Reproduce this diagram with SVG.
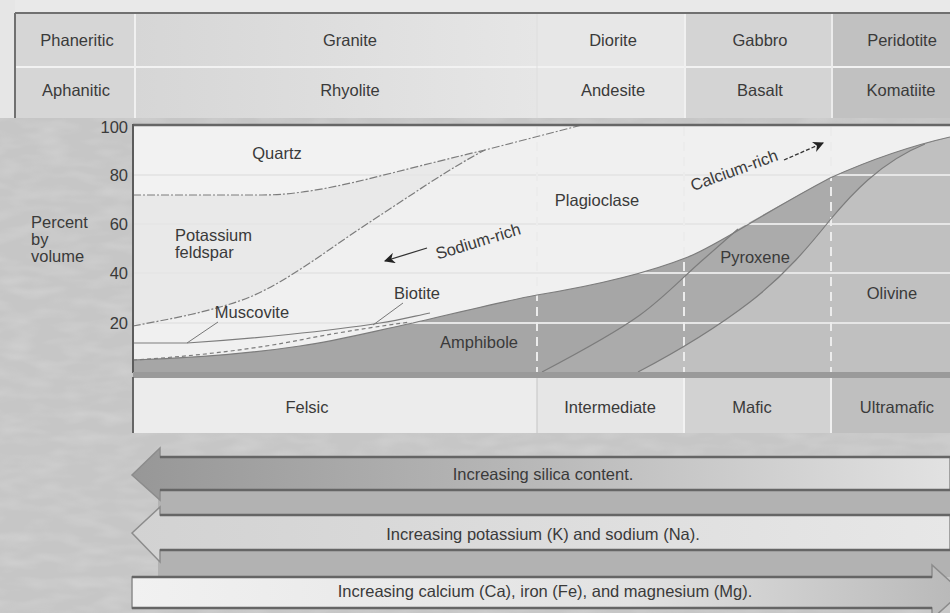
<svg xmlns="http://www.w3.org/2000/svg" width="950" height="613" viewBox="0 0 950 613">
<defs>
<style>
text { font-family: "Liberation Sans", Arial, Helvetica, sans-serif; font-size: 16.5px; fill: #3a3a3a; }
.c { text-anchor: middle; dominant-baseline: central; }
.l { text-anchor: start; dominant-baseline: central; }
.ax { text-anchor: end; dominant-baseline: central; }
.bnd { fill: none; stroke: #7c7c7c; stroke-width: 1.2; }
.dash { stroke-dasharray: 8 2 2 2; }
.grid { stroke: #e6e6e6; stroke-width: 2; }
.vgrid { stroke: #ececec; stroke-width: 2; stroke-dasharray: 9 6; }
.edge { stroke: #656565; stroke-width: 2.5; }
.head { stroke: #8c8c8c; stroke-width: 1.5; stroke-linejoin: miter; }
</style>
<linearGradient id="gSilica" x1="0" y1="0" x2="1" y2="0">
<stop offset="0" stop-color="#979797"/><stop offset="0.5" stop-color="#b9b9b9"/><stop offset="1" stop-color="#e2e2e2"/>
</linearGradient>
<linearGradient id="gKNa" x1="0" y1="0" x2="1" y2="0">
<stop offset="0" stop-color="#d2d2d2"/><stop offset="1" stop-color="#e7e7e7"/>
</linearGradient>
<linearGradient id="gCa" x1="0" y1="0" x2="1" y2="0">
<stop offset="0" stop-color="#f1f1f1"/><stop offset="0.6" stop-color="#e2e2e2"/><stop offset="1" stop-color="#b8b8b8"/>
</linearGradient>
<linearGradient id="gGranite" x1="0" y1="0" x2="1" y2="0">
<stop offset="0" stop-color="#d6d6d6"/><stop offset="1" stop-color="#e6e6e6"/>
</linearGradient>
<marker id="ah" viewBox="0 0 10 10" refX="9" refY="5" markerWidth="11" markerHeight="11" markerUnits="userSpaceOnUse" orient="auto">
<path d="M0,0 L10,5 L0,10 L3,5 Z" fill="#222"/>
</marker>
<filter id="tex" x="0" y="0" width="100%" height="100%">
<feTurbulence type="fractalNoise" baseFrequency="0.03 0.09" numOctaves="2" seed="4"/>
<feColorMatrix type="matrix" values="0 0 0 0 1  0 0 0 0 1  0 0 0 0 1  0 0 0 0.9 -0.35"/>
</filter>
</defs>

<!-- background -->
<g id="background">
<rect x="0" y="0" width="950" height="613" fill="#c6c6c6"/>
<rect x="0" y="0" width="950" height="613" filter="url(#tex)" opacity="0.35"/>
<rect x="0" y="0" width="950" height="12" fill="#e9e9e9"/>
<rect x="0" y="0" width="15" height="118" fill="#e6e6e6"/>
</g>

<!-- rock name table -->
<g id="rock-table">
<rect x="15" y="13" width="120" height="105" fill="#d6d6d6"/>
<rect x="135" y="13" width="402" height="105" fill="url(#gGranite)"/>
<rect x="537" y="13" width="148" height="105" fill="#e7e7e7"/>
<rect x="685" y="13" width="147" height="105" fill="#d4d4d4"/>
<rect x="832" y="13" width="118" height="105" fill="#c1c1c1"/>
<line x1="15" y1="67" x2="950" y2="67" stroke="#f2f2f2" stroke-width="2"/>
<line x1="135" y1="13" x2="135" y2="118" stroke="#f0f0f0" stroke-width="2"/>
<line x1="537" y1="13" x2="537" y2="118" stroke="#dedede" stroke-width="1"/>
<line x1="685" y1="13" x2="685" y2="118" stroke="#f0f0f0" stroke-width="2"/>
<line x1="832" y1="13" x2="832" y2="118" stroke="#ececec" stroke-width="2"/>
<line x1="15" y1="13" x2="950" y2="13" stroke="#707070" stroke-width="2"/>
<line x1="15" y1="13" x2="15" y2="118" stroke="#707070" stroke-width="2"/>
<g id="row-phaneritic">
<text class="c" x="77" y="40">Phaneritic</text>
<text class="c" x="350" y="40">Granite</text>
<text class="c" x="613" y="40">Diorite</text>
<text class="c" x="760" y="40">Gabbro</text>
<text class="c" x="902" y="40">Peridotite</text>
</g>
<g id="row-aphanitic">
<text class="c" x="76" y="90">Aphanitic</text>
<text class="c" x="350" y="90">Rhyolite</text>
<text class="c" x="613" y="90">Andesite</text>
<text class="c" x="760" y="90">Basalt</text>
<text class="c" x="901" y="90">Komatiite</text>
</g>
</g>

<!-- chart -->
<g id="chart">
<rect x="133" y="125" width="817" height="247" fill="#f0f0f0"/>
<path id="quartz-area" d="M133,125 L582,125 L485,150 C455,157 420,166 380,176 C340,186 300,195 262,195 L133,195 Z" fill="#f2f2f2"/>
<path id="kspar-area" d="M133,195 L262,195 C300,195 340,186 380,176 C420,166 455,157 485,150 C450,168 410,196 370,222 C330,248 290,280 250,297 C215,311 170,319 133,326 Z" fill="#e9e9e9"/>
<path id="amphibole-area" d="M133,360 C200,358 260,352 300,346 C340,340 370,332 413,323 C460,312 500,302 537,295 C580,288 640,276 688,257 C720,244 760,215 830,178 C870,160 910,146 950,137 L950,372 L133,372 Z" fill="#a6a6a6"/>
<path id="pyroxene-area" d="M542,372 C580,352 615,333 640,315 C665,297 685,275 705,258 L738,229 C760,216 795,197 830,178 C860,164 895,151 925,144 C880,162 850,196 830,220 C810,245 785,275 750,302 C720,325 680,350 638,372 Z" fill="#ababab"/>
<path id="olivine-area" d="M638,372 C680,350 720,325 750,302 C785,275 810,245 830,220 C850,196 880,162 925,144 L950,137 L950,372 Z" fill="#c0c0c0"/>

<g id="grid">
<line class="grid" x1="133" y1="175" x2="950" y2="175"/>
<line class="grid" x1="133" y1="224" x2="950" y2="224"/>
<line class="grid" x1="133" y1="273" x2="950" y2="273"/>
<line class="grid" x1="133" y1="323" x2="950" y2="323"/>
<line class="vgrid" x1="537" y1="127" x2="537" y2="372"/>
<line class="vgrid" x1="684" y1="127" x2="684" y2="372"/>
<line class="vgrid" x1="831" y1="127" x2="831" y2="372"/>
</g>

<g id="boundaries">
<path class="bnd dash" d="M133,195 L262,195 C300,195 340,186 380,176 C420,166 455,157 485,150 L582,125"/>
<path class="bnd dash" d="M133,326 C170,319 215,311 250,297 C290,280 330,248 370,222 C410,196 450,168 485,150"/>
<path class="bnd" d="M133,343 L187,343 C250,339 330,331 380,323 C400,320 415,316 430,313"/>
<path class="bnd" stroke-dasharray="4 3" d="M133,360 C200,356 260,348 300,340 C330,334 360,329 410,322"/>
<path class="bnd" stroke="#6a6a6a" d="M133,360 C200,358 260,352 300,346 C340,340 370,332 413,323 C460,312 500,302 537,295 C580,288 640,276 688,257 C720,244 760,215 830,178 C870,160 910,146 950,137"/>
<path class="bnd" stroke="#6a6a6a" d="M542,372 C580,352 615,333 640,315 C665,297 685,275 705,258 L738,229"/>
<path class="bnd" stroke="#6a6a6a" d="M638,372 C680,350 720,325 750,302 C785,275 810,245 830,220 C850,196 880,162 925,144"/>
<line x1="187" y1="343" x2="218" y2="322" stroke="#777" stroke-width="1"/>
<line x1="373" y1="325" x2="403" y2="303" stroke="#777" stroke-width="1"/>
</g>

<line x1="133" y1="125" x2="950" y2="125" stroke="#666" stroke-width="2.5"/>
<line x1="133" y1="124" x2="133" y2="373" stroke="#5c5c5c" stroke-width="2"/>
<rect x="133" y="372" width="817" height="6" fill="#9a9a9a"/>

<g id="axis-labels">
<text class="ax" x="128" y="127">100</text>
<text class="ax" x="128" y="175">80</text>
<text class="ax" x="128" y="224">60</text>
<text class="ax" x="128" y="273">40</text>
<text class="ax" x="128" y="323">20</text>
<text class="l" x="31" y="222">Percent</text>
<text class="l" x="31" y="239">by</text>
<text class="l" x="31" y="256">volume</text>
</g>

<g id="mineral-labels">
<text class="c" x="277" y="153">Quartz</text>
<text class="l" x="175" y="235">Potassium</text>
<text class="l" x="175" y="252">feldspar</text>
<text class="c" x="252" y="312">Muscovite</text>
<text class="c" x="417" y="293">Biotite</text>
<text class="c" x="597" y="200">Plagioclase</text>
<text class="c" x="479" y="342">Amphibole</text>
<text class="c" x="755" y="257">Pyroxene</text>
<text class="c" x="892" y="293">Olivine</text>
<text class="c" transform="translate(478,241) rotate(-17)">Sodium-rich</text>
<text class="c" transform="translate(734,170) rotate(-20)">Calcium-rich</text>
</g>
</g>

<g id="connectors">
<line x1="427" y1="248" x2="385" y2="261" stroke="#333" stroke-width="1.3" marker-end="url(#ah)"/>
<line x1="784" y1="160" x2="823" y2="143" stroke="#333" stroke-width="1.3" stroke-dasharray="4 2" marker-end="url(#ah)"/>
</g>

<!-- composition row -->
<g id="composition-row">
<rect x="133" y="378" width="404" height="55" fill="#ececec"/>
<rect x="537" y="378" width="147" height="55" fill="#e6e6e6"/>
<rect x="684" y="378" width="147" height="55" fill="#d2d2d2"/>
<rect x="831" y="378" width="119" height="55" fill="#bfbfbf"/>
<line x1="537" y1="378" x2="537" y2="433" stroke="#c4c4c4" stroke-width="1"/>
<line x1="684" y1="378" x2="684" y2="433" stroke="#f2f2f2" stroke-width="2"/>
<line x1="831" y1="378" x2="831" y2="433" stroke="#f0f0f0" stroke-width="2"/>
<line x1="133" y1="377" x2="133" y2="433" stroke="#666" stroke-width="2"/>
<text class="c" x="307" y="407">Felsic</text>
<text class="c" x="610" y="407">Intermediate</text>
<text class="c" x="752" y="407">Mafic</text>
<text class="c" x="897" y="407">Ultramafic</text>
</g>

<!-- trend arrows -->
<g id="arrows">
<rect x="158" y="490" width="792" height="25" fill="#b2b2b2"/>
<rect x="158" y="550" width="792" height="27" fill="#b2b2b2"/>
<g id="arrow-silica">
<polygon class="head" points="132,475 160,448 160,457 950,457 950,490 160,490 160,500" fill="url(#gSilica)"/>
<line class="edge" x1="160" y1="457" x2="950" y2="457"/>
<line class="edge" x1="160" y1="490" x2="950" y2="490"/>
<text class="c" x="543" y="474">Increasing silica content.</text>
</g>
<g id="arrow-k-na">
<polygon class="head" points="132,533 160,507 160,515 950,515 950,550 160,550 160,562" fill="url(#gKNa)"/>
<line class="edge" x1="160" y1="515" x2="950" y2="515"/>
<line class="edge" x1="160" y1="550" x2="950" y2="550"/>
<text class="c" x="543" y="534">Increasing potassium (K) and sodium (Na).</text>
</g>
<g id="arrow-ca-fe-mg">
<polygon class="head" points="132,577 932,577 932,565 962,592 932,619 932,608 132,608" fill="url(#gCa)"/>
<line class="edge" x1="132" y1="577" x2="932" y2="577"/>
<line class="edge" x1="132" y1="608" x2="932" y2="608"/>
<text class="c" x="545" y="591">Increasing calcium (Ca), iron (Fe), and magnesium (Mg).</text>
</g>
</g>
</svg>
